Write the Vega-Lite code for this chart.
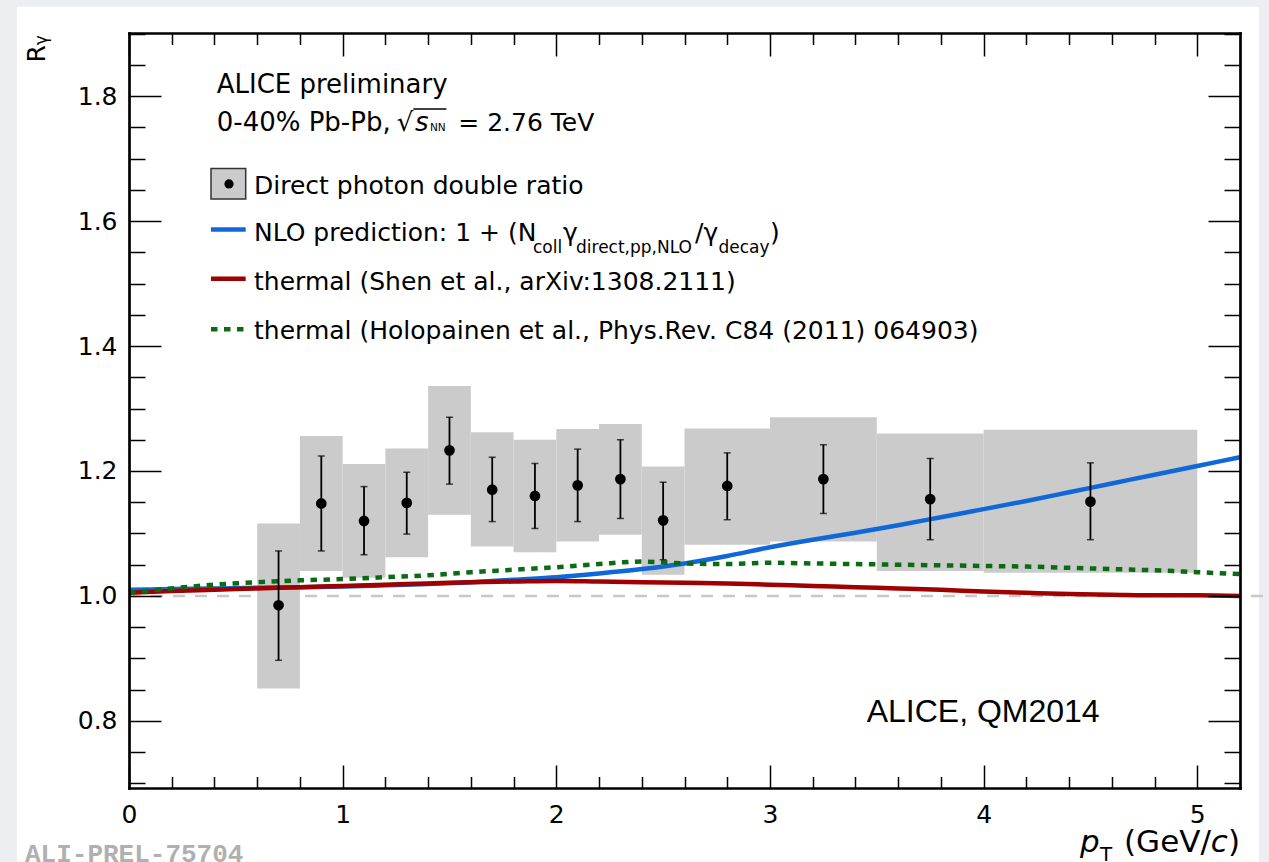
{
  "$schema": "https://vega.github.io/schema/vega-lite/v6.json",
  "width": 1111,
  "height": 755,
  "autosize": {"type": "none"},
  "padding": {"left": 129, "top": 33, "right": 29, "bottom": 74},
  "background": "#eceef1",
  "config": {
    "view": {"stroke": null},
    "axis": {"disable": true, "grid": false, "labelFont": "DejaVu Sans", "labelFontSize": 25, "labelColor": "black", "tickColor": "black", "domainColor": "black"},
    "text": {"font": "DejaVu Sans", "fontSize": 25, "color": "black", "align": "left", "baseline": "alphabetic"}
  },
  "datasets": {
    "bins": [
      {"pT": 0.7, "lo": 0.6, "hi": 0.8, "R": 0.985, "statLo": 0.897, "statHi": 1.072, "sysLo": 0.852, "sysHi": 1.116},
      {"pT": 0.9, "lo": 0.8, "hi": 1.0, "R": 1.148, "statLo": 1.072, "statHi": 1.224, "sysLo": 1.040, "sysHi": 1.256},
      {"pT": 1.1, "lo": 1.0, "hi": 1.2, "R": 1.120, "statLo": 1.066, "statHi": 1.175, "sysLo": 1.029, "sysHi": 1.211},
      {"pT": 1.3, "lo": 1.2, "hi": 1.4, "R": 1.149, "statLo": 1.099, "statHi": 1.198, "sysLo": 1.062, "sysHi": 1.236},
      {"pT": 1.5, "lo": 1.4, "hi": 1.6, "R": 1.233, "statLo": 1.179, "statHi": 1.286, "sysLo": 1.130, "sysHi": 1.336},
      {"pT": 1.7, "lo": 1.6, "hi": 1.8, "R": 1.170, "statLo": 1.119, "statHi": 1.222, "sysLo": 1.079, "sysHi": 1.262},
      {"pT": 1.9, "lo": 1.8, "hi": 2.0, "R": 1.160, "statLo": 1.108, "statHi": 1.212, "sysLo": 1.070, "sysHi": 1.250},
      {"pT": 2.1, "lo": 2.0, "hi": 2.2, "R": 1.177, "statLo": 1.119, "statHi": 1.235, "sysLo": 1.087, "sysHi": 1.267},
      {"pT": 2.3, "lo": 2.2, "hi": 2.4, "R": 1.187, "statLo": 1.124, "statHi": 1.250, "sysLo": 1.098, "sysHi": 1.275},
      {"pT": 2.5, "lo": 2.4, "hi": 2.6, "R": 1.121, "statLo": 1.058, "statHi": 1.182, "sysLo": 1.034, "sysHi": 1.207},
      {"pT": 2.8, "lo": 2.6, "hi": 3.0, "R": 1.176, "statLo": 1.122, "statHi": 1.229, "sysLo": 1.082, "sysHi": 1.268},
      {"pT": 3.25, "lo": 3.0, "hi": 3.5, "R": 1.187, "statLo": 1.132, "statHi": 1.242, "sysLo": 1.087, "sysHi": 1.286},
      {"pT": 3.75, "lo": 3.5, "hi": 4.0, "R": 1.155, "statLo": 1.090, "statHi": 1.220, "sysLo": 1.040, "sysHi": 1.260},
      {"pT": 4.5, "lo": 4.0, "hi": 5.0, "R": 1.151, "statLo": 1.090, "statHi": 1.213, "sysLo": 1.037, "sysHi": 1.266}
    ],
    "curves": [
      {"model": "NLO", "pT": 0.0, "R": 1.010}, {"model": "NLO", "pT": 0.2, "R": 1.011}, {"model": "NLO", "pT": 0.4, "R": 1.012},
      {"model": "NLO", "pT": 0.6, "R": 1.013}, {"model": "NLO", "pT": 0.8, "R": 1.014}, {"model": "NLO", "pT": 1.0, "R": 1.015},
      {"model": "NLO", "pT": 1.2, "R": 1.017}, {"model": "NLO", "pT": 1.4, "R": 1.019}, {"model": "NLO", "pT": 1.6, "R": 1.022},
      {"model": "NLO", "pT": 1.8, "R": 1.026}, {"model": "NLO", "pT": 2.0, "R": 1.030}, {"model": "NLO", "pT": 2.2, "R": 1.036},
      {"model": "NLO", "pT": 2.4, "R": 1.043}, {"model": "NLO", "pT": 2.6, "R": 1.052}, {"model": "NLO", "pT": 2.8, "R": 1.064},
      {"model": "NLO", "pT": 3.0, "R": 1.078}, {"model": "NLO", "pT": 3.2, "R": 1.090}, {"model": "NLO", "pT": 3.4, "R": 1.101},
      {"model": "NLO", "pT": 3.6, "R": 1.113}, {"model": "NLO", "pT": 3.8, "R": 1.126}, {"model": "NLO", "pT": 4.0, "R": 1.139},
      {"model": "NLO", "pT": 4.2, "R": 1.152}, {"model": "NLO", "pT": 4.4, "R": 1.166}, {"model": "NLO", "pT": 4.6, "R": 1.180},
      {"model": "NLO", "pT": 4.8, "R": 1.194}, {"model": "NLO", "pT": 5.0, "R": 1.208}, {"model": "NLO", "pT": 5.2, "R": 1.222},
      {"model": "Shen", "pT": 0.0, "R": 1.005}, {"model": "Shen", "pT": 0.2, "R": 1.008}, {"model": "Shen", "pT": 0.4, "R": 1.010},
      {"model": "Shen", "pT": 0.6, "R": 1.012}, {"model": "Shen", "pT": 0.8, "R": 1.014}, {"model": "Shen", "pT": 1.0, "R": 1.016},
      {"model": "Shen", "pT": 1.2, "R": 1.018}, {"model": "Shen", "pT": 1.4, "R": 1.020}, {"model": "Shen", "pT": 1.6, "R": 1.022},
      {"model": "Shen", "pT": 1.8, "R": 1.023}, {"model": "Shen", "pT": 2.0, "R": 1.024}, {"model": "Shen", "pT": 2.2, "R": 1.023},
      {"model": "Shen", "pT": 2.4, "R": 1.022}, {"model": "Shen", "pT": 2.6, "R": 1.021}, {"model": "Shen", "pT": 2.8, "R": 1.020},
      {"model": "Shen", "pT": 3.0, "R": 1.018}, {"model": "Shen", "pT": 3.2, "R": 1.016}, {"model": "Shen", "pT": 3.4, "R": 1.014},
      {"model": "Shen", "pT": 3.6, "R": 1.012}, {"model": "Shen", "pT": 3.8, "R": 1.010}, {"model": "Shen", "pT": 4.0, "R": 1.007},
      {"model": "Shen", "pT": 4.2, "R": 1.005}, {"model": "Shen", "pT": 4.4, "R": 1.003}, {"model": "Shen", "pT": 4.6, "R": 1.002},
      {"model": "Shen", "pT": 4.8, "R": 1.001}, {"model": "Shen", "pT": 5.0, "R": 1.001}, {"model": "Shen", "pT": 5.2, "R": 1.000},
      {"model": "Holopainen", "pT": 0.0, "R": 1.005}, {"model": "Holopainen", "pT": 0.2, "R": 1.012}, {"model": "Holopainen", "pT": 0.4, "R": 1.018},
      {"model": "Holopainen", "pT": 0.6, "R": 1.022}, {"model": "Holopainen", "pT": 0.8, "R": 1.025}, {"model": "Holopainen", "pT": 1.0, "R": 1.027},
      {"model": "Holopainen", "pT": 1.2, "R": 1.030}, {"model": "Holopainen", "pT": 1.4, "R": 1.033}, {"model": "Holopainen", "pT": 1.6, "R": 1.038},
      {"model": "Holopainen", "pT": 1.8, "R": 1.042}, {"model": "Holopainen", "pT": 2.0, "R": 1.046}, {"model": "Holopainen", "pT": 2.2, "R": 1.051},
      {"model": "Holopainen", "pT": 2.4, "R": 1.055}, {"model": "Holopainen", "pT": 2.6, "R": 1.052}, {"model": "Holopainen", "pT": 2.8, "R": 1.051},
      {"model": "Holopainen", "pT": 3.0, "R": 1.053}, {"model": "Holopainen", "pT": 3.2, "R": 1.052}, {"model": "Holopainen", "pT": 3.4, "R": 1.051},
      {"model": "Holopainen", "pT": 3.6, "R": 1.050}, {"model": "Holopainen", "pT": 3.8, "R": 1.049}, {"model": "Holopainen", "pT": 4.0, "R": 1.048},
      {"model": "Holopainen", "pT": 4.2, "R": 1.047}, {"model": "Holopainen", "pT": 4.4, "R": 1.045}, {"model": "Holopainen", "pT": 4.6, "R": 1.043},
      {"model": "Holopainen", "pT": 4.8, "R": 1.041}, {"model": "Holopainen", "pT": 5.0, "R": 1.038}, {"model": "Holopainen", "pT": 5.2, "R": 1.035}
    ]
  },
  "resolve": {"axis": {"x": "independent", "y": "independent"}},
  "layer": [
    {
      "data": {"values": [{}]},
      "mark": {"type": "rect", "fill": "white", "clip": false},
      "encoding": {
        "x": {"datum": -0.5242, "type": "quantitative", "scale": {"domain": [0, 5.2], "nice": false, "zero": false}, "axis": null},
        "x2": {"datum": 5.289},
        "y": {"datum": 0.55, "type": "quantitative", "scale": {"domain": [0.6926, 1.901], "nice": false, "zero": false}, "axis": null},
        "y2": {"datum": 1.9432}
      }
    },
    {
      "data": {"values": [{}]},
      "mark": {"type": "rule", "color": "#c8c8c8", "strokeWidth": 2.5, "strokeDash": [12, 10], "clip": false},
      "encoding": {
        "x": {"datum": 0, "type": "quantitative", "scale": {"domain": [0, 5.2], "nice": false, "zero": false}, "axis": null},
        "x2": {"datum": 5.34},
        "y": {"datum": 1, "type": "quantitative", "scale": {"domain": [0.6926, 1.901], "nice": false, "zero": false}, "axis": null}
      }
    },
    {
      "data": {"name": "bins"},
      "mark": {"type": "rect", "fill": "#cbcbcb"},
      "encoding": {
        "x": {"field": "lo", "type": "quantitative", "scale": {"domain": [0, 5.2], "nice": false, "zero": false},
          "axis": {"orient": "bottom", "values": [0, 1, 2, 3, 4, 5], "format": "d", "ticks": false, "tickSize": 0, "domain": false, "labelPadding": 14, "labelFlush": false, "labelOverlap": false, "title": null, "zindex": 1}},
        "x2": {"field": "hi"},
        "y": {"field": "sysLo", "type": "quantitative", "scale": {"domain": [0.6926, 1.901], "nice": false, "zero": false},
          "axis": {"orient": "left", "values": [0.8, 1.0, 1.2, 1.4, 1.6, 1.8], "format": ".1f", "ticks": false, "tickSize": 0, "domain": false, "labelPadding": 12, "labelOverlap": false, "title": null, "zindex": 1}},
        "y2": {"field": "sysHi"}
      }
    },
    {
      "data": {"name": "curves"},
      "transform": [{"filter": "datum.model === 'NLO'"}],
      "mark": {"type": "line", "color": "#1068d8", "strokeWidth": 4.5, "interpolate": "monotone"},
      "encoding": {
        "x": {"field": "pT", "type": "quantitative", "scale": {"domain": [0, 5.2], "nice": false, "zero": false},
          "axis": {"orient": "bottom", "values": [0.2, 0.4, 0.6, 0.8, 1.2, 1.4, 1.6, 1.8, 2.2, 2.4, 2.6, 2.8, 3.2, 3.4, 3.6, 3.8, 4.2, 4.4, 4.6, 4.8], "labels": false, "tickSize": -11.5, "tickWidth": 1.5, "domain": false, "title": null, "zindex": 1}},
        "y": {"field": "R", "type": "quantitative", "scale": {"domain": [0.6926, 1.901], "nice": false, "zero": false},
          "axis": {"orient": "left", "values": [0.7, 0.75, 0.85, 0.9, 0.95, 1.05, 1.1, 1.15, 1.25, 1.3, 1.35, 1.45, 1.5, 1.55, 1.65, 1.7, 1.75, 1.85, 1.9], "labels": false, "tickSize": -16, "tickWidth": 1.5, "domain": false, "title": null, "zindex": 1}}
      }
    },
    {
      "data": {"name": "curves"},
      "transform": [{"filter": "datum.model === 'Shen'"}],
      "mark": {"type": "line", "color": "#a00000", "strokeWidth": 4.5, "interpolate": "monotone"},
      "encoding": {
        "x": {"field": "pT", "type": "quantitative", "scale": {"domain": [0, 5.2], "nice": false, "zero": false},
          "axis": {"orient": "top", "values": [0, 1, 2, 3, 4, 5], "labels": false, "tickSize": -23, "tickWidth": 1.5, "domain": true, "domainWidth": 2.7, "domainCap": "square", "title": null, "zindex": 1}},
        "y": {"field": "R", "type": "quantitative", "scale": {"domain": [0.6926, 1.901], "nice": false, "zero": false},
          "axis": {"orient": "right", "values": [0.8, 1.0, 1.2, 1.4, 1.6, 1.8], "labels": false, "tickSize": -32, "tickWidth": 1.5, "domain": true, "domainWidth": 2.7, "domainCap": "square", "title": null, "zindex": 1}}
      }
    },
    {
      "data": {"name": "curves"},
      "transform": [{"filter": "datum.model === 'Holopainen'"}],
      "mark": {"type": "line", "color": "#0b6b12", "strokeWidth": 4.5, "strokeDash": [6.5, 6.5], "interpolate": "monotone"},
      "encoding": {
        "x": {"field": "pT", "type": "quantitative", "scale": {"domain": [0, 5.2], "nice": false, "zero": false},
          "axis": {"orient": "top", "values": [0.2, 0.4, 0.6, 0.8, 1.2, 1.4, 1.6, 1.8, 2.2, 2.4, 2.6, 2.8, 3.2, 3.4, 3.6, 3.8, 4.2, 4.4, 4.6, 4.8], "labels": false, "tickSize": -11.5, "tickWidth": 1.5, "domain": false, "title": null, "zindex": 1}},
        "y": {"field": "R", "type": "quantitative", "scale": {"domain": [0.6926, 1.901], "nice": false, "zero": false},
          "axis": {"orient": "right", "values": [0.7, 0.75, 0.85, 0.9, 0.95, 1.05, 1.1, 1.15, 1.25, 1.3, 1.35, 1.45, 1.5, 1.55, 1.65, 1.7, 1.75, 1.85, 1.9], "labels": false, "tickSize": -16, "tickWidth": 1.5, "domain": false, "title": null, "zindex": 1}}
      }
    },
    {
      "data": {"name": "bins"},
      "mark": {"type": "errorbar", "ticks": {"size": 7, "thickness": 1.5, "color": "black"}, "rule": {"strokeWidth": 1.8, "color": "black"}},
      "encoding": {
        "x": {"field": "pT", "type": "quantitative", "scale": {"domain": [0, 5.2], "nice": false, "zero": false}, "axis": null},
        "y": {"field": "statLo", "type": "quantitative", "scale": {"domain": [0.6926, 1.901], "nice": false, "zero": false}, "axis": null},
        "y2": {"field": "statHi"}
      }
    },
    {
      "data": {"name": "bins"},
      "mark": {"type": "circle", "size": 115, "color": "black", "opacity": 1},
      "encoding": {
        "x": {"field": "pT", "type": "quantitative", "scale": {"domain": [0, 5.2], "nice": false, "zero": false},
          "axis": {"orient": "bottom", "values": [0, 1, 2, 3, 4, 5], "labels": false, "tickSize": -23, "tickWidth": 1.5, "domain": true, "domainWidth": 2.7, "domainCap": "square", "title": null, "zindex": 1}},
        "y": {"field": "R", "type": "quantitative", "scale": {"domain": [0.6926, 1.901], "nice": false, "zero": false},
          "axis": {"orient": "left", "values": [0.8, 1.0, 1.2, 1.4, 1.6, 1.8], "labels": false, "tickSize": -32, "tickWidth": 1.5, "domain": true, "domainWidth": 2.7, "domainCap": "square", "title": null, "zindex": 1}}
      }
    },
    {
      "data": {"values": [{}]},
      "mark": {"type": "rect", "fill": "#cbcbcb", "stroke": "#333333", "strokeWidth": 1.5},
      "encoding": {
        "x": {"datum": 0.3838, "type": "quantitative", "axis": null}, "x2": {"datum": 0.5462},
        "y": {"datum": 1.6355, "type": "quantitative", "axis": null}, "y2": {"datum": 1.684}
      }
    },
    {
      "data": {"values": [{}]},
      "mark": {"type": "circle", "size": 85, "color": "black", "opacity": 1},
      "encoding": {"x": {"datum": 0.4681, "type": "quantitative", "axis": null}, "y": {"datum": 1.6595, "type": "quantitative", "axis": null}}
    },
    {
      "data": {"values": [{}]},
      "mark": {"type": "rule", "color": "#1068d8", "strokeWidth": 4.5},
      "encoding": {"x": {"datum": 0.3838, "type": "quantitative", "axis": null}, "x2": {"datum": 0.5462}, "y": {"datum": 1.5864, "type": "quantitative", "axis": null}}
    },
    {
      "data": {"values": [{}]},
      "mark": {"type": "rule", "color": "#a00000", "strokeWidth": 4.5},
      "encoding": {"x": {"datum": 0.3838, "type": "quantitative", "axis": null}, "x2": {"datum": 0.5462}, "y": {"datum": 1.5075, "type": "quantitative", "axis": null}}
    },
    {
      "data": {"values": [{}]},
      "mark": {"type": "rule", "color": "#0b6b12", "strokeWidth": 4.5, "strokeDash": [6.5, 6.5]},
      "encoding": {"x": {"datum": 0.3838, "type": "quantitative", "axis": null}, "x2": {"datum": 0.5462}, "y": {"datum": 1.427, "type": "quantitative", "axis": null}}
    },
    {
      "data": {"values": [{}]},
      "mark": {"type": "rule", "color": "black", "strokeWidth": 1.5},
      "encoding": {"x": {"datum": 1.3307, "type": "quantitative", "axis": null}, "x2": {"datum": 1.4855}, "y": {"datum": 1.7795, "type": "quantitative", "axis": null}}
    },
    {
      "data": {"values": [{"label": "ALICE preliminary"}]},
      "mark": {"type": "text", "fontSize": 26},
      "encoding": {"x": {"datum": 0.4105, "type": "quantitative", "axis": null}, "y": {"datum": 1.8051, "type": "quantitative", "axis": null}, "text": {"field": "label"}}
    },
    {
      "data": {"values": [{"label": "0-40% Pb-Pb,"}]},
      "mark": {"type": "text", "fontSize": 26},
      "encoding": {"x": {"datum": 0.4105, "type": "quantitative", "axis": null}, "y": {"datum": 1.7448, "type": "quantitative", "axis": null}, "text": {"field": "label"}}
    },
    {
      "data": {"values": [{"label": "√"}]},
      "mark": {"type": "text", "fontSize": 26},
      "encoding": {"x": {"datum": 1.253, "type": "quantitative", "axis": null}, "y": {"datum": 1.7448, "type": "quantitative", "axis": null}, "text": {"field": "label"}}
    },
    {
      "data": {"values": [{"label": "s"}]},
      "mark": {"type": "text", "fontSize": 26, "fontStyle": "italic"},
      "encoding": {"x": {"datum": 1.3386, "type": "quantitative", "axis": null}, "y": {"datum": 1.7448, "type": "quantitative", "axis": null}, "text": {"field": "label"}}
    },
    {
      "data": {"values": [{"label": "NN"}]},
      "mark": {"type": "text", "fontSize": 10.5},
      "encoding": {"x": {"datum": 1.4088, "type": "quantitative", "axis": null}, "y": {"datum": 1.7448, "type": "quantitative", "axis": null}, "text": {"field": "label"}}
    },
    {
      "data": {"values": [{"label": "= 2.76 TeV"}]},
      "mark": {"type": "text", "fontSize": 25},
      "encoding": {"x": {"datum": 1.5413, "type": "quantitative", "axis": null}, "y": {"datum": 1.7448, "type": "quantitative", "axis": null}, "text": {"field": "label"}}
    },
    {
      "data": {"values": [{"label": "Direct photon double ratio"}]},
      "mark": {"type": "text"},
      "encoding": {"x": {"datum": 0.5851, "type": "quantitative", "axis": null}, "y": {"datum": 1.644, "type": "quantitative", "axis": null}, "text": {"field": "label"}}
    },
    {
      "data": {"values": [{"label": "NLO prediction: 1 + (N"}]},
      "mark": {"type": "text"},
      "encoding": {"x": {"datum": 0.5851, "type": "quantitative", "axis": null}, "y": {"datum": 1.5677, "type": "quantitative", "axis": null}, "text": {"field": "label"}}
    },
    {
      "data": {"values": [{"label": "coll"}]},
      "mark": {"type": "text", "fontSize": 17},
      "encoding": {"x": {"datum": 1.891, "type": "quantitative", "axis": null}, "y": {"datum": 1.5491, "type": "quantitative", "axis": null}, "text": {"field": "label"}}
    },
    {
      "data": {"values": [{"label": "γ"}]},
      "mark": {"type": "text"},
      "encoding": {"x": {"datum": 2.0314, "type": "quantitative", "axis": null}, "y": {"datum": 1.5677, "type": "quantitative", "axis": null}, "text": {"field": "label"}}
    },
    {
      "data": {"values": [{"label": "direct,pp,NLO"}]},
      "mark": {"type": "text", "fontSize": 17},
      "encoding": {"x": {"datum": 2.0922, "type": "quantitative", "axis": null}, "y": {"datum": 1.5491, "type": "quantitative", "axis": null}, "text": {"field": "label"}}
    },
    {
      "data": {"values": [{"label": "/"}]},
      "mark": {"type": "text"},
      "encoding": {"x": {"datum": 2.6492, "type": "quantitative", "axis": null}, "y": {"datum": 1.5677, "type": "quantitative", "axis": null}, "text": {"field": "label"}}
    },
    {
      "data": {"values": [{"label": "γ"}]},
      "mark": {"type": "text"},
      "encoding": {"x": {"datum": 2.689, "type": "quantitative", "axis": null}, "y": {"datum": 1.5677, "type": "quantitative", "axis": null}, "text": {"field": "label"}}
    },
    {
      "data": {"values": [{"label": "decay"}]},
      "mark": {"type": "text", "fontSize": 17},
      "encoding": {"x": {"datum": 2.7592, "type": "quantitative", "axis": null}, "y": {"datum": 1.5491, "type": "quantitative", "axis": null}, "text": {"field": "label"}}
    },
    {
      "data": {"values": [{"label": ")"}]},
      "mark": {"type": "text"},
      "encoding": {"x": {"datum": 3.0002, "type": "quantitative", "axis": null}, "y": {"datum": 1.5677, "type": "quantitative", "axis": null}, "text": {"field": "label"}}
    },
    {
      "data": {"values": [{"label": "thermal (Shen et al., arXiv:1308.2111)"}]},
      "mark": {"type": "text"},
      "encoding": {"x": {"datum": 0.5851, "type": "quantitative", "axis": null}, "y": {"datum": 1.4904, "type": "quantitative", "axis": null}, "text": {"field": "label"}}
    },
    {
      "data": {"values": [{"label": "thermal (Holopainen et al., Phys.Rev. C84 (2011) 064903)"}]},
      "mark": {"type": "text"},
      "encoding": {"x": {"datum": 0.5851, "type": "quantitative", "axis": null}, "y": {"datum": 1.412, "type": "quantitative", "axis": null}, "text": {"field": "label"}}
    },
    {
      "data": {"values": [{"label": "ALICE, QM2014"}]},
      "mark": {"type": "text", "font": "Liberation Sans", "fontSize": 32},
      "encoding": {"x": {"datum": 3.4526, "type": "quantitative", "axis": null}, "y": {"datum": 0.7981, "type": "quantitative", "axis": null}, "text": {"field": "label"}}
    },
    {
      "data": {"values": [{"label": "ALI-PREL-75704"}]},
      "mark": {"type": "text", "font": "Liberation Mono", "fontWeight": "bold", "fontSize": 26, "color": "#b0b0b0"},
      "encoding": {"x": {"datum": -0.4868, "type": "quantitative", "axis": null}, "y": {"datum": 0.5736, "type": "quantitative", "axis": null}, "text": {"field": "label"}}
    },
    {
      "data": {"values": [{"label": "R"}]},
      "mark": {"type": "text", "fontSize": 25, "angle": 270},
      "encoding": {"x": {"datum": -0.3932, "type": "quantitative", "axis": null}, "y": {"datum": 1.8536, "type": "quantitative", "axis": null}, "text": {"field": "label"}}
    },
    {
      "data": {"values": [{"label": "γ"}]},
      "mark": {"type": "text", "fontSize": 17, "angle": 270},
      "encoding": {"x": {"datum": -0.3838, "type": "quantitative", "axis": null}, "y": {"datum": 1.8815, "type": "quantitative", "axis": null}, "text": {"field": "label"}}
    },
    {
      "data": {"values": [{"label": "p"}]},
      "mark": {"type": "text", "fontSize": 31, "fontStyle": "italic"},
      "encoding": {"x": {"datum": 4.4512, "type": "quantitative", "axis": null}, "y": {"datum": 0.5896, "type": "quantitative", "axis": null}, "text": {"field": "label"}}
    },
    {
      "data": {"values": [{"label": "T"}]},
      "mark": {"type": "text", "fontSize": 20},
      "encoding": {"x": {"datum": 4.5448, "type": "quantitative", "axis": null}, "y": {"datum": 0.5752, "type": "quantitative", "axis": null}, "text": {"field": "label"}}
    },
    {
      "data": {"values": [{"label": "(GeV/"}]},
      "mark": {"type": "text", "fontSize": 31},
      "encoding": {"x": {"datum": 4.6572, "type": "quantitative", "axis": null}, "y": {"datum": 0.5896, "type": "quantitative", "axis": null}, "text": {"field": "label"}}
    },
    {
      "data": {"values": [{"label": "c"}]},
      "mark": {"type": "text", "fontSize": 31, "fontStyle": "italic"},
      "encoding": {"x": {"datum": 5.0634, "type": "quantitative", "axis": null}, "y": {"datum": 0.5896, "type": "quantitative", "axis": null}, "text": {"field": "label"}}
    },
    {
      "data": {"values": [{"label": ")"}]},
      "mark": {"type": "text", "fontSize": 31},
      "encoding": {"x": {"datum": 5.1434, "type": "quantitative", "axis": null}, "y": {"datum": 0.5896, "type": "quantitative", "axis": null}, "text": {"field": "label"}}
    }
  ]
}
